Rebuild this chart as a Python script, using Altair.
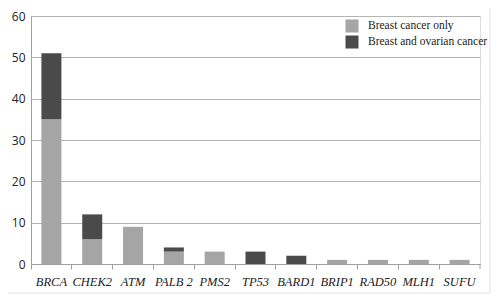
import altair as alt
import pandas as pd

genes = ["BRCA", "CHEK2", "ATM", "PALB2", "PMS2", "TP53", "BARD1", "BRIP1", "RAD50", "MLH1", "SUFU"]
breast_only = [35, 6, 9, 3, 3, 0, 0, 1, 1, 1, 1]
breast_ovarian = [16, 6, 0, 1, 0, 3, 2, 0, 0, 0, 0]
series = ["Breast cancer only", "Breast and ovarian cancer"]
colors = ["#a5a5a5", "#4a4a4a"]

rows = []
for g, a, b in zip(genes, breast_only, breast_ovarian):
    rows.append({"gene": g, "series": series[0], "value": a, "ord": 0})
    rows.append({"gene": g, "series": series[1], "value": b, "ord": 1})
df = pd.DataFrame(rows)

W, H = 449, 248

bars = alt.Chart(df).mark_bar(size=20).encode(
    x=alt.X("gene:N", sort=genes, title=None,
            scale=alt.Scale(paddingInner=0, paddingOuter=0),
            axis=alt.Axis(labelAngle=0, labelFont="Liberation Serif", labelFontStyle="italic",
                          labelFontSize=12.5, labelColor="#222222", labelPadding=6,
                          domainColor="#a0a0a0", tickColor="#a0a0a0", tickSize=5,
                          bandPosition=0, grid=False,
                          labelExpr="datum.value == 'PALB2' ? 'PALB 2' : datum.value")),
    y=alt.Y("value:Q", stack="zero", title=None,
            scale=alt.Scale(domain=[0, 60]),
            axis=alt.Axis(values=[0, 10, 20, 30, 40, 50, 60], ticks=False, labelPadding=6,
                          labelFont="Open Sans", labelFontSize=12, labelColor="#222222",
                          gridColor="#b4b4b4", gridWidth=1.2, domainColor="#a0a0a0")),
    color=alt.Color("series:N", scale=alt.Scale(domain=series, range=colors),
                    legend=alt.Legend(title=None, orient="none", legendX=314, legendY=3,
                                      symbolType="square", symbolSize=170, symbolStrokeWidth=0,
                                      labelFont="Liberation Serif", labelFontSize=11.5,
                                      labelColor="#222222", rowPadding=2, labelOffset=9)),
    order=alt.Order("ord:Q", sort="ascending"),
)

end_tick = alt.Chart(pd.DataFrame({"v": [0]})).mark_rule(color="#a0a0a0").encode(
    x=alt.value(W), y=alt.value(H), y2=alt.value(H + 5))

frame_v = alt.Chart(pd.DataFrame({"v": [0]})).mark_rule(color="#e2e2e2").encode(
    x=alt.value(W + 10), y=alt.value(-20), y2=alt.value(H + 29))
frame_h = alt.Chart(pd.DataFrame({"v": [0]})).mark_rule(color="#e2e2e2").encode(
    x=alt.value(-40), x2=alt.value(W + 10), y=alt.value(H + 29))

chart = alt.layer(bars, end_tick, frame_v, frame_h).properties(
    width=W, height=H,
    autosize=alt.AutoSizeParams(type="none"),
    padding={"left": 23, "top": 8, "right": 12, "bottom": 34},
).configure_view(stroke=None).configure(background="white")

chart.save("out.html", embed_options={"renderer": "svg", "actions": False})
